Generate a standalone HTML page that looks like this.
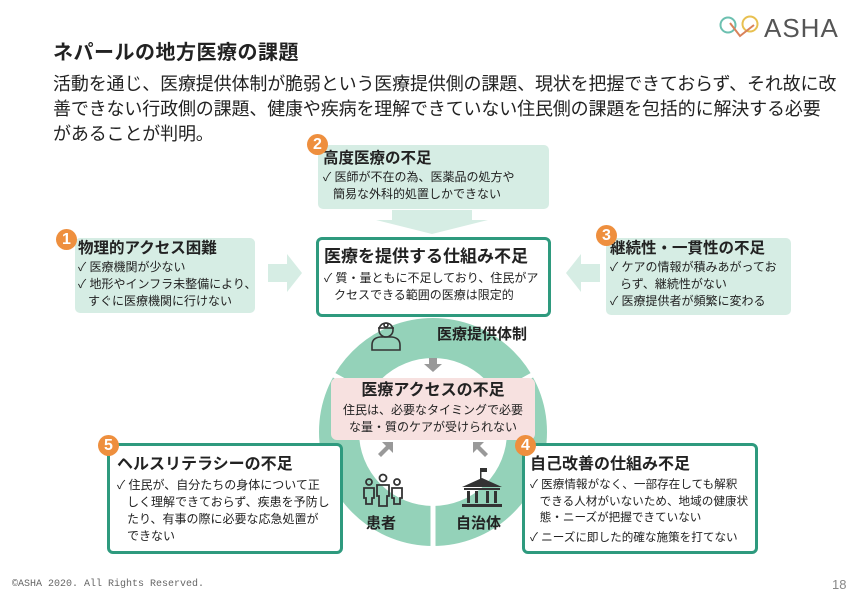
<!DOCTYPE html>
<html><head><meta charset="utf-8">
<style>
*{margin:0;padding:0;box-sizing:border-box}
body{width:867px;height:600px;background:#fff;position:relative;overflow:hidden;font-family:"Liberation Sans","Noto Sans CJK JP",sans-serif;color:#222}
.a{position:absolute;white-space:nowrap}
.lg{background:#d6ede4;border-radius:5px}
.bx{background:#fff;border:3.5px solid #2e9a7e;border-radius:6px}
.badge{position:absolute;width:21px;height:21px;border-radius:50%;background:#ee8f3e;color:#fff;font-weight:bold;font-size:16px;line-height:21px;text-align:center}
.h{font-weight:bold;font-size:15.5px;line-height:20px}
.t{font-size:12px;line-height:16.5px}
.p{font-size:18px;line-height:25px;letter-spacing:-0.15px}
</style></head><body>
<svg class="a" style="left:718px;top:12px" width="45" height="30" viewBox="0 0 45 30">
<circle cx="10" cy="13" r="7.5" fill="none" stroke="#6cc0b0" stroke-width="2"/>
<circle cx="32" cy="12" r="7.5" fill="none" stroke="#e8c050" stroke-width="2"/>
<path d="M12 11 L22 24 L36 13" fill="none" stroke="#d9825a" stroke-width="2"/>
</svg>
<div class="a" style="left:764px;top:13px;font-size:26px;color:#555;letter-spacing:1px">ASHA</div>

<div class="a" style="left:53px;top:36px;font-size:20px;font-weight:bold;letter-spacing:0.5px">ネパールの地方医療の課題</div>
<div class="a p" style="left:53px;top:72px">活動を通じ、医療提供体制が脆弱という医療提供側の課題、現状を把握できておらず、それ故に改</div>
<div class="a p" style="left:53px;top:97px">善できない行政側の課題、健康や疾病を理解できていない住民側の課題を包括的に解決する必要</div>
<div class="a p" style="left:53px;top:122px">があることが判明。</div>

<svg class="a" style="left:0;top:0" width="867" height="600">
<circle cx="433" cy="432" r="94" fill="none" stroke="#94d2b9" stroke-width="40"/>
<line x1="433" y1="505" x2="433" y2="550" stroke="#fff" stroke-width="5"/>
<line x1="370" y1="395" x2="330" y2="373" stroke="#fff" stroke-width="5"/>
<line x1="496" y1="395" x2="536" y2="373" stroke="#fff" stroke-width="5"/>
<polygon points="268,264 287,264 287,254 302,273 287,292 287,282 268,282" fill="#d6ede4"/>
<polygon points="600,264 581,264 581,254 566,273 581,292 581,282 600,282" fill="#d6ede4"/>
<polygon points="392,212 472,212 472,222 488,222 432,236 376,222 392,222" fill="#d6ede4" transform="translate(0,-2)"/>
<polygon points="429,358 437,358 437,364 442,364 433,372 424,364 429,364" fill="#999"/>
<polygon points="378,454 386,446 382,442 393,442 393,453 389,449 381,457" fill="#999"/>
<polygon points="488,454 480,446 484,442 473,442 473,453 477,449 485,457" fill="#999"/>
<g fill="none" stroke="#333" stroke-width="1.6">
<circle cx="386" cy="330" r="7"/><path d="M378 328 h16"/><circle cx="386" cy="325" r="2"/>
<path d="M372 350 v-5 q0-7 8-8 h12 q8 1 8 8 v5 z"/>
</g>
<g fill="none" stroke="#333" stroke-width="1.8">
<circle cx="369" cy="482" r="3"/><circle cx="383" cy="478" r="3.5"/><circle cx="397" cy="482" r="3"/>
<path d="M364 488 h10 v10 h-2 v6 h-6 v-6 h-2z"/><path d="M377 485 h12 v11 h-2 v10 h-8 v-10 h-2z"/><path d="M392 488 h10 v10 h-2 v6 h-6 v-6 h-2z"/>
</g>
<g fill="#333">
<polygon points="462,487 482,478 502,487"/><rect x="480" y="468" width="1.5" height="11"/><rect x="481" y="468" width="6" height="4"/>
<rect x="464" y="488" width="36" height="2"/>
<rect x="467" y="491" width="3" height="12"/><rect x="475" y="491" width="3" height="12"/><rect x="486" y="491" width="3" height="12"/><rect x="494" y="491" width="3" height="12"/>
<rect x="462" y="504" width="40" height="3"/>
</g>
</svg>
<div class="a" style="left:437px;top:323px;font-size:15px;font-weight:bold">医療提供体制</div>
<div class="a" style="left:366px;top:512px;font-size:15px;font-weight:bold">患者</div>
<div class="a" style="left:456px;top:512px;font-size:15px;font-weight:bold">自治体</div>

<div class="a" style="left:331px;top:378px;width:204px;height:62px;background:#f7e1e0;border-radius:6px;text-align:center">
<div style="font-size:16px;font-weight:bold;line-height:22px;margin-top:2px">医療アクセスの不足</div>
<div class="t" style="line-height:17px">住民は、必要なタイミングで必要<br>な量・質のケアが受けられない</div>
</div>

<div class="a lg" style="left:318px;top:145px;width:231px;height:64px;padding:4px 0 0 5px">
<div class="h">高度医療の不足</div>
<div class="t">✓ 医師が不在の為、医薬品の処方や<br>&nbsp;&nbsp;&nbsp;簡易な外科的処置しかできない</div>
</div>
<div class="badge" style="left:307px;top:134px">2</div>

<div class="a bx" style="left:316px;top:237px;width:235px;height:80px;padding:6px 0 0 5px">
<div class="h" style="font-size:17px;line-height:22px">医療を提供する仕組み不足</div>
<div class="t" style="margin-top:2px">✓ 質・量ともに不足しており、住民がア<br>&nbsp;&nbsp;&nbsp;クセスできる範囲の医療は限定的</div>
</div>

<div class="a lg" style="left:75px;top:238px;width:180px;height:75px;padding:1px 0 0 3px">
<div class="h">物理的アクセス困難</div>
<div class="t" style="line-height:17px">✓ 医療機関が少ない<br>✓ 地形やインフラ未整備により、<br>&nbsp;&nbsp;&nbsp;すぐに医療機関に行けない</div>
</div>
<div class="badge" style="left:56px;top:229px">1</div>

<div class="a lg" style="left:606px;top:238px;width:185px;height:77px;padding:1px 0 0 4px">
<div class="h">継続性・一貫性の不足</div>
<div class="t" style="line-height:17px">✓ ケアの情報が積みあがってお<br>&nbsp;&nbsp;&nbsp;らず、継続性がない<br>✓ 医療提供者が頻繁に変わる</div>
</div>
<div class="badge" style="left:596px;top:225px">3</div>

<div class="a bx" style="left:107px;top:443px;width:236px;height:111px;padding:8px 0 0 7px">
<div class="h" style="font-size:16px;line-height:21px">ヘルスリテラシーの不足</div>
<div class="t" style="line-height:17px;margin-top:2px">✓ 住民が、自分たちの身体について正<br>&nbsp;&nbsp;&nbsp;しく理解できておらず、疾患を予防し<br>&nbsp;&nbsp;&nbsp;たり、有事の際に必要な応急処置が<br>&nbsp;&nbsp;&nbsp;できない</div>
</div>
<div class="badge" style="left:98px;top:435px">5</div>

<div class="a bx" style="left:522px;top:443px;width:236px;height:111px;padding:8px 0 0 5px">
<div class="h" style="font-size:16px;line-height:21px">自己改善の仕組み不足</div>
<div class="t" style="line-height:16.5px;margin-top:2px;font-size:11.6px">✓ 医療情報がなく、一部存在しても解釈<br>&nbsp;&nbsp;&nbsp;できる人材がいないため、地域の健康状<br>&nbsp;&nbsp;&nbsp;態・ニーズが把握できていない<br><span style="display:block;margin-top:3px">✓ ニーズに即した的確な施策を打てない</span></div>
</div>
<div class="badge" style="left:515px;top:435px">4</div>

<div class="a" style="left:12px;top:579px;font-size:10px;color:#666;font-family:'Liberation Mono',monospace">©ASHA 2020. All Rights Reserved.</div>
<div class="a" style="left:832px;top:577px;font-size:13px;color:#888">18</div>
</body></html>
